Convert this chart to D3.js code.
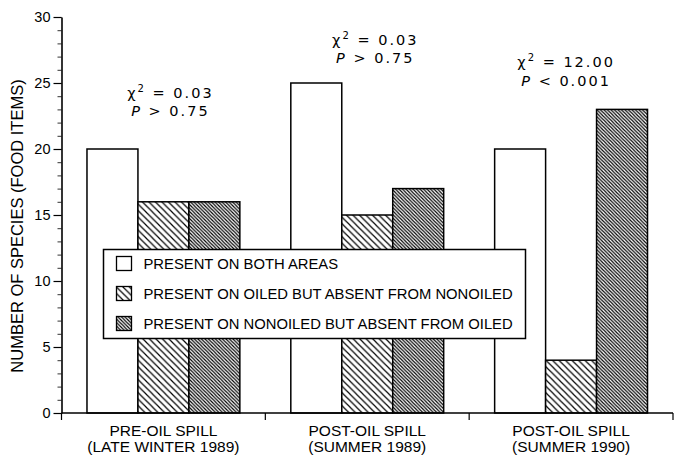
<!DOCTYPE html>
<html>
<head>
<meta charset="utf-8">
<script src="https://cdn.jsdelivr.net/npm/d3@7"></script>
<style>
  body { margin: 0; background: #fff; }
  svg { display: block; }
  text { font-family: "Liberation Sans", Arial, sans-serif; fill: #000; }
</style>
</head>
<body>
<svg id="chart" width="683" height="456"></svg>
<script>
// data
var periods = ["PRE-OIL SPILL|(LATE WINTER 1989)", "POST-OIL SPILL|(SUMMER 1989)", "POST-OIL SPILL|(SUMMER 1990)"];
var series = ["both", "oiledOnly", "nonoiledOnly"];
var seriesLabels = ["PRESENT ON BOTH AREAS", "PRESENT ON OILED BUT ABSENT FROM NONOILED", "PRESENT ON NONOILED BUT ABSENT FROM OILED"];
var both = [20, 25, 20];
var oiledOnly = [16, 15, 4];
var nonoiledOnly = [16, 17, 23];
var chiSquare = ["0.03", "0.03", "12.00"];
var pValue = ["> 0.75", "> 0.75", "< 0.001"];
var yTicks = [0, 5, 10, 15, 20, 25, 30];

var values = {both: both, oiledOnly: oiledOnly, nonoiledOnly: nonoiledOnly};
var data = periods.map(function(p, i) {
  var row = {period: p};
  series.forEach(function(s) { row[s] = values[s][i]; });
  return row;
});

var svg = d3.select("#chart"),
    margin = {top: 17, right: 10, bottom: 43, left: 61.5},
    width = 673 - margin.left,
    height = 413 - margin.top;

var g = svg.append("g").attr("transform", "translate(" + margin.left + "," + margin.top + ")");

// hatch patterns
var defs = svg.append("defs");
function hatch(id, gap, sw) {
  var p = defs.append("pattern")
    .attr("id", id)
    .attr("patternUnits", "userSpaceOnUse")
    .attr("width", gap).attr("height", gap);
  p.append("rect").attr("width", gap).attr("height", gap).attr("fill", "#fff");
  p.append("path")
    .attr("d", "M0,0L" + gap + "," + gap + "M" + (-gap) + ",0L" + gap + "," + (2 * gap) + "M0," + (-gap) + "L" + (2 * gap) + "," + gap)
    .attr("stroke", "#000").attr("stroke-width", sw);
}
hatch("diag", 6.5, 1.2);
hatch("dense", 3.5, 1.2);

var fills = {both: "#fff", oiledOnly: "url(#diag)", nonoiledOnly: "url(#dense)"};

var x0 = d3.scaleBand().domain(periods).range([0, width]).paddingInner(0).paddingOuter(0);
var x1 = d3.scaleBand().domain(series).range([0, x0.bandwidth()]).paddingInner(0).paddingOuter(0.5);
var y = d3.scaleLinear().domain([0, 30]).range([height, 0]);

// bars
g.selectAll(".group")
  .data(data)
  .enter().append("g")
  .attr("class", "group")
  .attr("transform", function(d) { return "translate(" + x0(d.period) + ",0)"; })
  .selectAll("rect")
  .data(function(d) { return series.map(function(s) { return {key: s, value: d[s]}; }); })
  .enter().append("rect")
  .attr("x", function(d) { return x1(d.key); })
  .attr("y", function(d) { return y(d.value); })
  .attr("width", x1.bandwidth())
  .attr("height", function(d) { return y(0) - y(d.value); })
  .attr("fill", function(d) { return fills[d.key]; })
  .attr("stroke", "#000")
  .attr("stroke-width", 1.5);

// y axis: minor ticks each unit, then majors
g.append("g")
  .call(d3.axisLeft(y).tickValues(d3.range(0, 31)).tickSize(4).tickFormat(""))
  .call(function(a) { a.select(".domain").remove(); a.selectAll("line").attr("stroke", "#333").attr("stroke-width", 1); });

g.append("g")
  .attr("class", "axis axis--y")
  .call(d3.axisLeft(y).tickValues(yTicks).tickSize(8).tickPadding(3).tickSizeOuter(0))
  .call(function(a) {
    a.select(".domain").attr("stroke", "#000").attr("stroke-width", 1.6);
    a.selectAll("line").attr("stroke", "#000").attr("stroke-width", 1.2);
    a.selectAll("text").style("font-size", "14.5px").attr("fill", "#000");
  });

// x axis: ticks at band boundaries
var xBounds = periods.map(function(p) { return x0(p); }).concat([width]);
g.append("g")
  .attr("transform", "translate(0," + height + ")")
  .call(function(a) {
    a.append("line").attr("x1", 0).attr("x2", width).attr("stroke", "#000").attr("stroke-width", 1.6);
    a.selectAll(".tk").data(xBounds).enter().append("line")
      .attr("x1", function(d) { return d; }).attr("x2", function(d) { return d; })
      .attr("y1", 0).attr("y2", 7).attr("stroke", "#000").attr("stroke-width", 1.2);
  });

g.selectAll(".cat")
  .data(periods)
  .enter().append("text")
  .attr("class", "cat")
  .attr("text-anchor", "middle")
  .attr("x", function(d) { return x0(d) + x0.bandwidth() / 2; })
  .attr("y", height + 23)
  .style("font-size", "15.5px")
  .each(function(d) {
    var t = d3.select(this);
    d.split("|").forEach(function(line, i) {
      t.append("tspan").attr("x", x0(d) + x0.bandwidth() / 2).attr("dy", i ? 16 : 0).text(line);
    });
  });

// y axis title
svg.append("text")
  .attr("transform", "translate(23,226) rotate(-90)")
  .attr("text-anchor", "middle")
  .style("font-size", "16.5px")
  .text("NUMBER OF SPECIES (FOOD ITEMS)");

// chi-square annotations (level in data units above each group)
var annotLevel = [23.9, 27.9, 26.2];
var annotShift = [7, 8, -5];
var annot = g.selectAll(".annot")
  .data(periods)
  .enter().append("g")
  .attr("class", "annot")
  .attr("transform", function(d, i) { return "translate(" + (x0(d) + x0.bandwidth() / 2 + annotShift[i]) + "," + y(annotLevel[i]) + ")"; })
  .style("font-size", "14.5px");

annot.append("text")
  .attr("text-anchor", "middle")
  .style("letter-spacing", "2px")
  .style("font-family", "'DejaVu Sans', sans-serif")
  .each(function(d, i) {
    var t = d3.select(this);
    t.append("tspan").text("\u03c7");
    t.append("tspan").attr("dy", -6).style("font-size", "10px").text("2");
    t.append("tspan").attr("dy", 6).text(" = " + chiSquare[i]);
  });

annot.append("text")
  .attr("text-anchor", "middle")
  .attr("y", 18.5)
  .style("letter-spacing", "2px")
  .style("font-family", "'DejaVu Sans', sans-serif")
  .each(function(d, i) {
    var t = d3.select(this);
    t.append("tspan").style("font-style", "italic").text("P");
    t.append("tspan").text(" " + pValue[i]);
  });

// legend
var legend = svg.append("g").attr("transform", "translate(103.5,249.5)");
legend.append("rect")
  .attr("width", 422).attr("height", 89)
  .attr("fill", "#fff").attr("stroke", "#000").attr("stroke-width", 1.5);

var item = legend.selectAll(".legend")
  .data(series)
  .enter().append("g")
  .attr("class", "legend")
  .attr("transform", function(d, i) { return "translate(0," + (14 + i * 30) + ")"; });

item.append("rect")
  .attr("x", 13).attr("y", -7)
  .attr("width", 15).attr("height", 14)
  .attr("fill", function(d) { return fills[d]; })
  .attr("stroke", "#000").attr("stroke-width", 1.3);

item.append("text")
  .attr("x", 40).attr("y", 5.5)
  .style("font-size", "14.8px")
  .text(function(d, i) { return seriesLabels[i]; });
</script>
</body>
</html>
